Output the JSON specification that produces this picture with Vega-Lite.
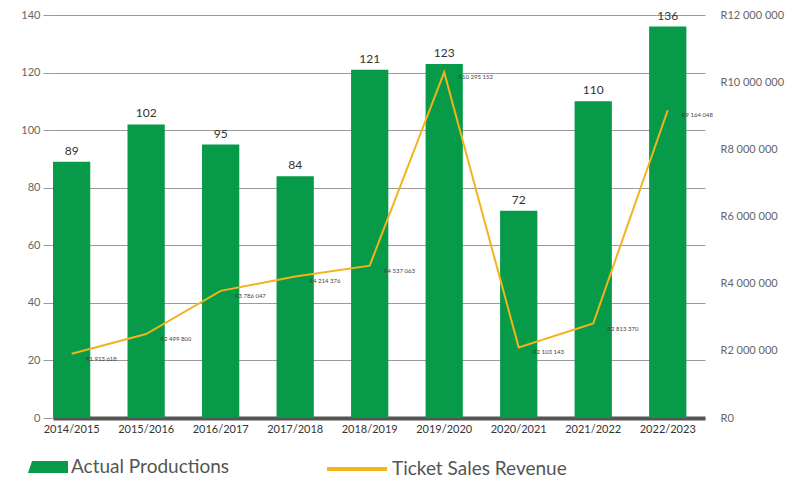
{
  "$schema": "https://vega.github.io/schema/vega-lite/v6.json",
  "width": 652,
  "height": 403,
  "autosize": {"type": "none"},
  "padding": {"left": 53, "top": 15, "right": 93, "bottom": 66},
  "background": "white",
  "config": {
    "view": {"stroke": null},
    "font": "Lato",
    "locale": {"number": {"decimal": ".", "thousands": " ", "grouping": [3], "currency": ["R", ""]}}
  },
  "data": {
    "values": [
      {"year": "2014/2015", "productions": 89, "revenue": 1913618},
      {"year": "2015/2016", "productions": 102, "revenue": 2499800},
      {"year": "2016/2017", "productions": 95, "revenue": 3786047},
      {"year": "2017/2018", "productions": 84, "revenue": 4214376},
      {"year": "2018/2019", "productions": 121, "revenue": 4537063},
      {"year": "2019/2020", "productions": 123, "revenue": 10295152},
      {"year": "2020/2021", "productions": 72, "revenue": 2103143},
      {"year": "2021/2022", "productions": 110, "revenue": 2813370},
      {"year": "2022/2023", "productions": 136, "revenue": 9164048}
    ]
  },
  "encoding": {
    "x": {
      "field": "year",
      "type": "nominal",
      "sort": null,
      "scale": {"paddingInner": 0.5, "paddingOuter": 0.125, "align": 0},
      "axis": {
        "title": null,
        "labelAngle": 0,
        "domainColor": "#555555",
        "domainWidth": 4,
        "ticks": false,
        "labelFontSize": 11,
        "labelColor": "#333333",
        "labelPadding": 5
      }
    }
  },
  "layer": [
    {
      "encoding": {
        "y": {
          "field": "productions",
          "type": "quantitative",
          "scale": {"domain": [0, 140]},
          "axis": {
            "title": null,
            "values": [0, 20, 40, 60, 80, 100, 120, 140],
            "grid": true,
            "gridColor": "#9a9a9a",
            "gridWidth": 1,
            "domain": false,
            "tickColor": "#9a9a9a",
            "tickSize": 10,
            "labelPadding": 3,
            "labelFontSize": 11,
            "labelColor": "#666666"
          }
        }
      },
      "layer": [
        {
          "mark": {"type": "bar"},
          "encoding": {
            "color": {
              "datum": "Actual Productions",
              "type": "nominal",
              "scale": {"range": ["#079A49"]},
              "legend": {
                "title": null,
                "orient": "none",
                "legendX": -25,
                "legendY": 432,
                "padding": 0,
                "symbolType": "M-1,0.3L-0.8,-0.3L1,-0.3L1,0.3Z",
                "symbolSize": 1600,
                "symbolStrokeWidth": 0,
                "labelFontSize": 19,
                "labelColor": "#555555",
                "labelOffset": 3,
                "labelLimit": 300
              }
            }
          }
        },
        {
          "mark": {"type": "text", "baseline": "bottom", "dy": -4, "fontSize": 12, "color": "#333333"},
          "encoding": {"text": {"field": "productions", "type": "quantitative"}}
        }
      ]
    },
    {
      "encoding": {
        "y": {
          "field": "revenue",
          "type": "quantitative",
          "scale": {"domain": [0, 12000000]},
          "axis": {
            "orient": "right",
            "title": null,
            "values": [0, 2000000, 4000000, 6000000, 8000000, 10000000, 12000000],
            "format": "$,d",
            "grid": false,
            "ticks": false,
            "domain": false,
            "labelPadding": 15,
            "labelFontSize": 11,
            "labelColor": "#666666"
          }
        }
      },
      "layer": [
        {
          "mark": {"type": "line", "strokeWidth": 2},
          "encoding": {
            "stroke": {
              "datum": "Ticket Sales Revenue",
              "type": "nominal",
              "scale": {"range": ["#F2B31B"]},
              "legend": {
                "title": null,
                "orient": "none",
                "legendX": 272,
                "legendY": 422,
                "padding": 0,
                "symbolType": "stroke",
                "symbolSize": 3600,
                "symbolStrokeWidth": 4,
                "labelFontSize": 19,
                "labelColor": "#555555",
                "labelOffset": 3,
                "labelLimit": 300
              }
            }
          }
        },
        {
          "mark": {"type": "text", "align": "left", "baseline": "middle", "dx": 14, "dy": 5, "fontSize": 6, "color": "#444444"},
          "encoding": {"text": {"field": "revenue", "type": "quantitative", "format": "$,d"}}
        }
      ]
    }
  ],
  "resolve": {"scale": {"y": "independent"}}
}
